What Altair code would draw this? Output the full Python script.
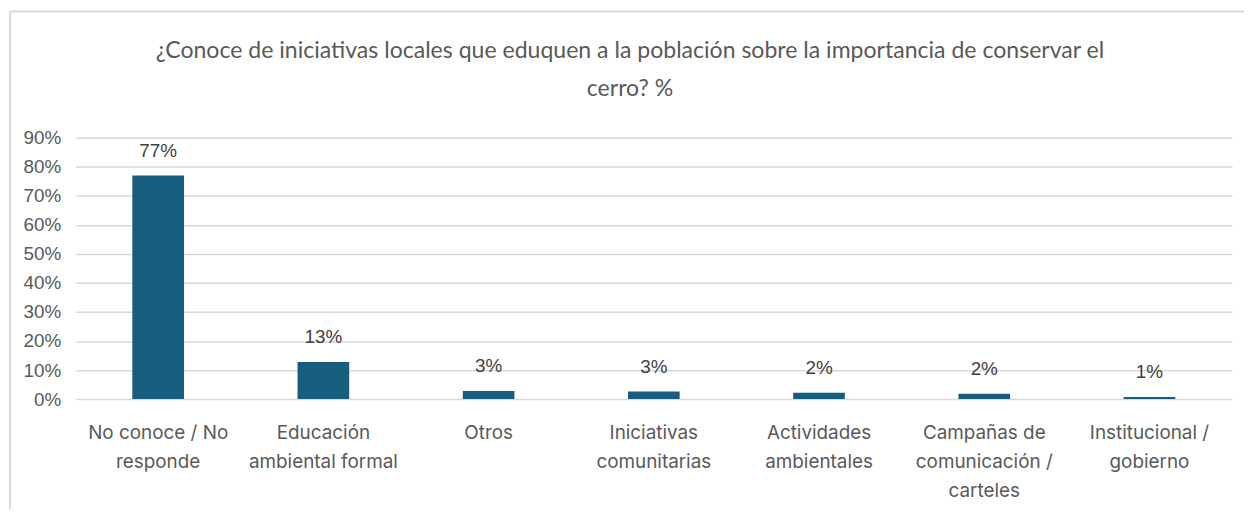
import altair as alt
import pandas as pd

categories = ["No conoce / No responde", "Educación ambiental formal", "Otros",
              "Iniciativas comunitarias", "Actividades ambientales",
              "Campañas de comunicación / carteles", "Institucional / gobierno"]
label_lines = [["No conoce / No", "responde"], ["Educación", "ambiental formal"], ["Otros"],
               ["Iniciativas", "comunitarias"], ["Actividades", "ambientales"],
               ["Campañas de", "comunicación /", "carteles"], ["Institucional /", "gobierno"]]
values = [0.77, 0.128, 0.028, 0.026, 0.022, 0.018, 0.007]
value_labels = ["77%", "13%", "3%", "3%", "2%", "2%", "1%"]
y_ticks = [0, 0.1, 0.2, 0.3, 0.4, 0.5, 0.6, 0.7, 0.8, 0.9]
title_lines = ["¿Conoce de iniciativas locales que eduquen a la población sobre la importancia de conservar el",
               "cerro? %"]

df = pd.DataFrame({"cat": categories, "val": values, "lab": value_labels})
title_df = pd.DataFrame({"t": ["\n".join(title_lines)]})

mapping = "{" + ",".join(
    "'" + c + "':[" + ",".join("'" + l + "'" for l in ls) + "]"
    for c, ls in zip(categories, label_lines)) + "}"

FONT = "Liberation Sans"
CAT_FONT = "Inter"
W, H = 1164, 263

x = alt.X("cat:N", sort=categories, title=None,
          axis=alt.Axis(labelAngle=0, labelFont=CAT_FONT, labelFontSize=19, labelColor="#595959",
                        labelLineHeight=29, labelPadding=25, ticks=False, domain=False, grid=False,
                        labelExpr=mapping + "[datum.label]", labelLimit=300))
y = alt.Y("val:Q", title=None, scale=alt.Scale(domain=[0, 0.9], nice=False),
          axis=alt.Axis(values=y_ticks, format=".0%", labelFont=FONT, labelFontSize=19,
                        labelColor="#595959", labelPadding=15, ticks=False, domain=False,
                        grid=True, gridColor="#d9d9d9", gridWidth=1.5, labelOverlap=False))

bars = alt.Chart(df).mark_bar(size=52, color="#175E7E").encode(x=x, y=y)
text = alt.Chart(df).mark_text(dy=-25, font=FONT, fontSize=19, color="#404040").encode(
    x=x, y=y, text="lab:N")

title = alt.Chart(title_df).mark_text(
    font="Lato", fontSize=23.2, color="#595959", lineHeight=38,
    lineBreak="\n", align="center", baseline="middle").encode(
    x=alt.value(W / 2 - 24), y=alt.value(-87), text="t:N")

border_left = alt.Chart(title_df).mark_rule(color="#d9d9d9", strokeWidth=2).encode(
    x=alt.value(-66), y=alt.value(-127), y2=alt.value(H + 120))
border_top = alt.Chart(title_df).mark_rule(color="#d9d9d9", strokeWidth=2).encode(
    x=alt.value(-66), x2=alt.value(W + 20), y=alt.value(-127))

chart = alt.layer(bars, text, title, border_left, border_top).properties(
    width=W, height=H,
    autosize=alt.AutoSizeParams(type="none"),
    padding={"left": 68, "top": 129, "right": 12, "bottom": 109},
).configure_view(stroke=None)

chart.save("out.html", embed_options={"renderer": "svg", "actions": False})
